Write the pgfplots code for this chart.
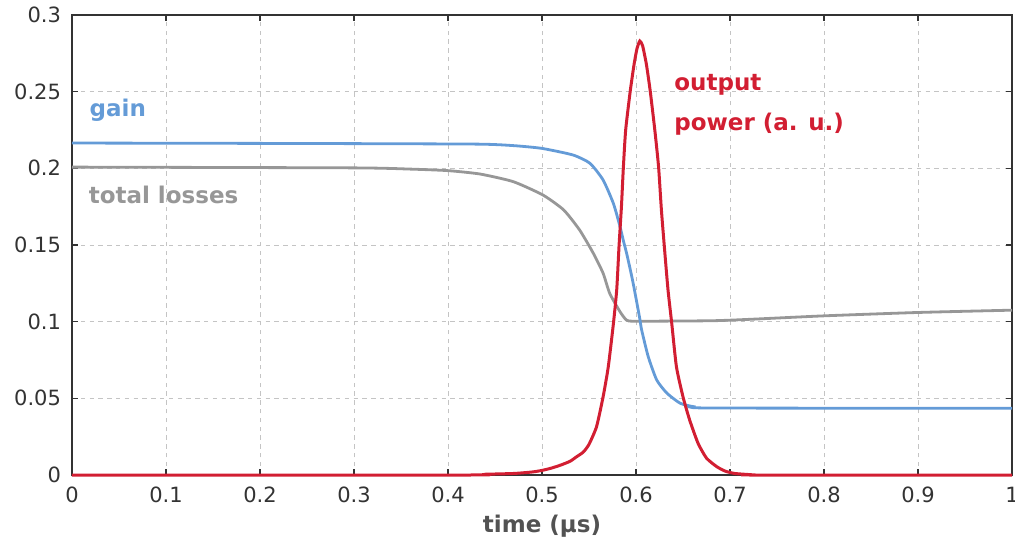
\documentclass[border=0pt]{standalone}
\usepackage{pgfplots}
\pgfplotsset{compat=1.18}
\usepackage{fontspec}
\setmainfont{DejaVu Sans}
\definecolor{cred}{HTML}{D21E32}
\definecolor{cblue}{HTML}{649BD7}
\definecolor{cgray}{HTML}{979797}
\definecolor{cgrid}{HTML}{C4C4C4}
\definecolor{ctext}{HTML}{333333}
\begin{document}
\begin{tikzpicture}
\begin{axis}[
  scale only axis,
  width=470pt, height=230pt,
  xmin=0, xmax=1, ymin=0, ymax=0.3,
  xtick={0,0.1,...,1.0}, ytick={0,0.05,...,0.3},
  xticklabels={0,0.1,0.2,0.3,0.4,0.5,0.6,0.7,0.8,0.9,1},
  yticklabels={0,0.05,0.1,0.15,0.2,0.25,0.3},
  tick align=inside, major tick length=3pt,
  tick style={color=ctext, line width=0.6pt},
  axis line style={color=ctext, line width=0.6pt},
  grid=major,
  major grid style={color=cgrid, dash pattern=on 2.2pt off 2.2pt, line width=0.5pt},
  ticklabel style={font=\fontsize{10.5}{12}\selectfont, text=ctext},
  /pgf/number format/assume math mode=true,
  xticklabel style={yshift=-2.5pt},
  yticklabel style={xshift=-2pt},
  xlabel={\textbf{time (µs)}},
  xlabel style={font=\fontsize{11.5}{13}\selectfont, text=ctext!85!white, yshift=1pt},
  clip=false,
]
\coordinate (SW) at (rel axis cs:0,0);
\coordinate (NE) at (rel axis cs:1,1);
\addplot[cgray, line width=1.4pt, smooth, tension=0.35] coordinates {
(0,0.2008) (0.30,0.2003) (0.36,0.1995) (0.40,0.1985) (0.434,0.1963) (0.4695,0.1913)
(0.501,0.1826) (0.523,0.1729) (0.540,0.1598) (0.5546,0.1446) (0.565,0.1316)
(0.572,0.1185) (0.583,0.1065) (0.590,0.1010) (0.60,0.1003) (0.68,0.1006)
(0.72,0.1015) (0.80,0.1038) (0.90,0.1060) (1.0,0.1075)
};
\addplot[cblue, line width=1.4pt, smooth, tension=0.35] coordinates {
(0,0.2165) (0.25,0.2162) (0.43,0.2158) (0.47,0.2148) (0.50,0.2130) (0.533,0.2087)
(0.551,0.2033) (0.565,0.1924) (0.576,0.1770) (0.583,0.1620) (0.5865,0.1530)
(0.590,0.1446) (0.594,0.1337) (0.597,0.1250) (0.601,0.1120) (0.604,0.1020)
(0.606,0.0946) (0.613,0.0772) (0.622,0.0620) (0.633,0.0533) (0.647,0.0468)
(0.661,0.0446) (0.68,0.0437) (1.0,0.0435)
};
\addplot[cred, line width=1.5pt, smooth, tension=0.35] coordinates {
(0,0) (0.42,0) (0.44,0.0005) (0.47,0.001) (0.49,0.002) (0.50,0.003) (0.51,0.0045)
(0.52,0.0065) (0.53,0.009) (0.537,0.012) (0.544,0.015) (0.55,0.020) (0.558,0.0315)
(0.565,0.051) (0.5705,0.0706) (0.576,0.099) (0.5795,0.121) (0.582,0.150)
(0.5845,0.175) (0.5865,0.200) (0.589,0.225) (0.594,0.251) (0.598,0.268)
(0.601,0.278) (0.604,0.283) (0.607,0.280) (0.611,0.268) (0.615,0.251)
(0.620,0.225) (0.624,0.201) (0.627,0.173) (0.630,0.150) (0.634,0.121)
(0.638,0.099) (0.643,0.0706) (0.650,0.051) (0.657,0.036) (0.666,0.0207)
(0.675,0.011) (0.686,0.0054) (0.695,0.0025) (0.705,0.001) (0.72,0.0003)
(0.725,0) (1,0)
};
\node[anchor=base west, text=cblue, font=\fontsize{11.5}{13}\selectfont\bfseries, inner sep=0pt] at (axis cs:0.0184,0.2337) {gain};
\node[anchor=base west, text=cgray, font=\fontsize{11.5}{13}\selectfont\bfseries, inner sep=0pt] at (axis cs:0.0174,0.1768) {total losses};
\node[anchor=base west, text=cred, font=\fontsize{11.5}{13}\selectfont\bfseries, inner sep=0pt] at (axis cs:0.6404,0.2507) {output};
\node[anchor=base west, text=cred, font=\fontsize{11.5}{13}\selectfont\bfseries, inner sep=0pt] at (axis cs:0.6404,0.225) {power (a. u.)};
\end{axis}
\pgfresetboundingbox
\path[use as bounding box] (SW) ++(-36pt,-33.5pt) rectangle ([shift={(1.5pt,7.5pt)}]NE);
\end{tikzpicture}
\end{document}
